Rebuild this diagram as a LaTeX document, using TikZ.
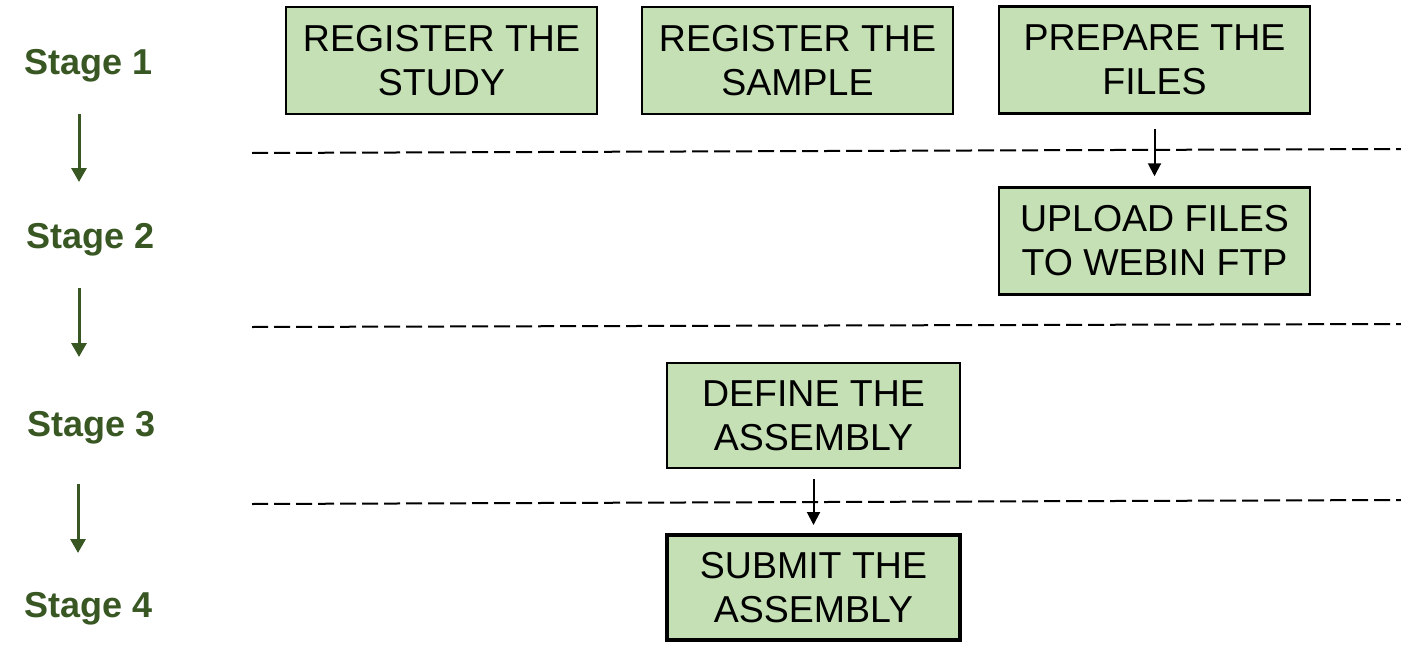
\documentclass[tikz,border=0pt]{standalone}
\usepackage{fontspec}
\setmainfont{Liberation Sans}
\usetikzlibrary{arrows.meta}
\definecolor{boxfill}{HTML}{C5E0B4}
\definecolor{stagegreen}{HTML}{385723}
\begin{document}
\begin{tikzpicture}[x=1pt,y=-1pt,
  stepbox/.style={draw=black, line width=2.5pt, fill=boxfill, minimum width=311pt, minimum height=107pt, inner sep=0pt, align=center, font=\fontsize{37.5}{44}\selectfont},
  stagelabel/.style={anchor=base west, inner sep=0pt, text=stagegreen, font=\fontsize{36}{43}\selectfont\bfseries},
  stagearrow/.style={draw=stagegreen, line width=3pt, -{Triangle[width=15pt,length=14pt]}},
  flowarrow/.style={draw=black, line width=2pt, -{Triangle[width=13pt,length=13pt]}},
  divider/.style={draw=black, line width=2pt, dash pattern=on 16pt off 6pt}]
\useasboundingbox (0,0) rectangle (1401,656);
% boxes
\node[stepbox] (study) at (441.5,60.5) {REGISTER THE\\STUDY};
\node[stepbox] (sample) at (797.5,60.5) {REGISTER THE\\SAMPLE};
\node[stepbox] (prepare) at (1154.5,60) {PREPARE THE\\FILES};
\node[stepbox] (upload) at (1154.5,241) {UPLOAD FILES\\TO WEBIN FTP};
\node[stepbox, minimum width=293pt, minimum height=105pt] (define) at (813.5,415.5) {DEFINE THE\\ASSEMBLY};
\node[stepbox, line width=4pt, minimum width=293pt, minimum height=105pt] (submit) at (813.5,587.5) {SUBMIT THE\\ASSEMBLY};
% stage labels
\node[stagelabel] (s1) at (24,74) {Stage 1};
\node[stagelabel] (s2) at (26,248) {Stage 2};
\node[stagelabel] (s3) at (27,436) {Stage 3};
\node[stagelabel] (s4) at (24,617) {Stage 4};
% stage arrows
\coordinate (a1s) at (79,114); \coordinate (a1e) at (79,182);
\coordinate (a2s) at (79,288); \coordinate (a2e) at (79,357);
\coordinate (a3s) at (78,484); \coordinate (a3e) at (78,553);
\draw[stagearrow] (a1s) -- (a1e);
\draw[stagearrow] (a2s) -- (a2e);
\draw[stagearrow] (a3s) -- (a3e);
% dividers
\coordinate (d1s) at (252,153); \coordinate (d1e) at (1401,149);
\coordinate (d2s) at (252,327); \coordinate (d2e) at (1401,324);
\coordinate (d3s) at (252,504); \coordinate (d3e) at (1401,500);
\draw[divider] (d1s) -- (d1e);
\draw[divider] (d2s) -- (d2e);
\draw[divider] (d3s) -- (d3e);
% flow arrows
\draw[flowarrow, shorten <=14pt, shorten >=10pt] (prepare.south) -- (upload.north);
\draw[flowarrow, shorten <=10pt, shorten >=8pt] (define.south) -- (submit.north);
\end{tikzpicture}
\end{document}
